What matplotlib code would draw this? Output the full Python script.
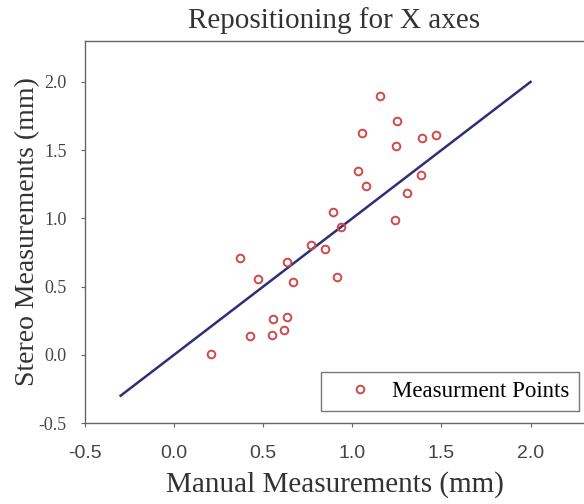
import numpy as np
import matplotlib
matplotlib.use('Agg')
import matplotlib.pyplot as plt

manual = [1.157, 1.253, 1.056, 1.393, 1.472, 1.247, 1.034, 1.079, 1.388,
          1.309, 0.893, 0.938, 1.242, 0.770, 0.848, 0.371, 0.635, 0.472,
          0.669, 0.916, 0.208, 0.427, 0.551, 0.618, 0.556, 0.635]
stereo = [1.896, 1.712, 1.625, 1.588, 1.610, 1.529, 1.346, 1.236, 1.317,
          1.185, 1.046, 0.936, 0.987, 0.804, 0.775, 0.709, 0.679, 0.555,
          0.533, 0.570, 0.005, 0.137, 0.145, 0.181, 0.262, 0.277]
line_x = [-0.3, 2.0]
line_y = [-0.3, 2.0]
xticks = [-0.5, 0.0, 0.5, 1.0, 1.5, 2.0]
yticks = [-0.5, 0.0, 0.5, 1.0, 1.5, 2.0]

serif = 'Liberation Serif'
sans = 'Liberation Sans'

fig = plt.figure(figsize=(5.84, 5.04), dpi=100)
ax = fig.add_axes([0.1455, 0.1607, 0.8545, 0.758])

ax.plot(line_x, line_y, color='#2e2f78', linewidth=1.8, zorder=2)
ax.plot(manual, stereo, linestyle='none', marker='o', markersize=5.5,
        markerfacecolor='none', markeredgecolor='#d04848', markeredgewidth=1.4,
        label='Measurment Points', zorder=3)

ax.set_xlim(-0.5, 2.3)
ax.set_ylim(-0.5, 2.3)
ax.set_xticks(xticks)
ax.set_yticks(yticks)
ax.set_xticklabels(['%.1f' % v for v in xticks], fontfamily=sans, fontsize=14, color='#444444')
ax.set_yticklabels(['%.1f' % v for v in yticks], fontfamily=serif, fontsize=13, color='#444444')
ax.tick_params(direction='out', length=3, width=0.8, color='#666666')
ax.tick_params(axis='x', pad=13)
ax.tick_params(axis='y', pad=10)

ax.spines['right'].set_visible(False)
for s in ['left', 'top', 'bottom']:
    ax.spines[s].set_color('#666666')
    ax.spines[s].set_linewidth(1.0)

ax.set_title('Repositioning for X axes', fontfamily=serif, fontsize=21, color='#333333', pad=9)
ax.set_xlabel('Manual Measurements (mm)', fontfamily=serif, fontsize=21, color='#333333')
ax.set_ylabel('Stereo Measurements (mm)', fontfamily=serif, fontsize=20, color='#333333')
ax.xaxis.set_label_coords(0.5, -0.125)
ax.yaxis.set_label_coords(-0.09, 0.5)

leg = ax.legend(loc='lower right', prop={'family': serif, 'size': 16.5},
                fancybox=False, edgecolor='#777777', framealpha=1,
                handlelength=2.55, handletextpad=0.15, borderpad=0.4,
                borderaxespad=0, bbox_to_anchor=(0.99, 0.031))
leg.get_frame().set_linewidth(1.0)

fig.savefig('out.png', dpi=100)
